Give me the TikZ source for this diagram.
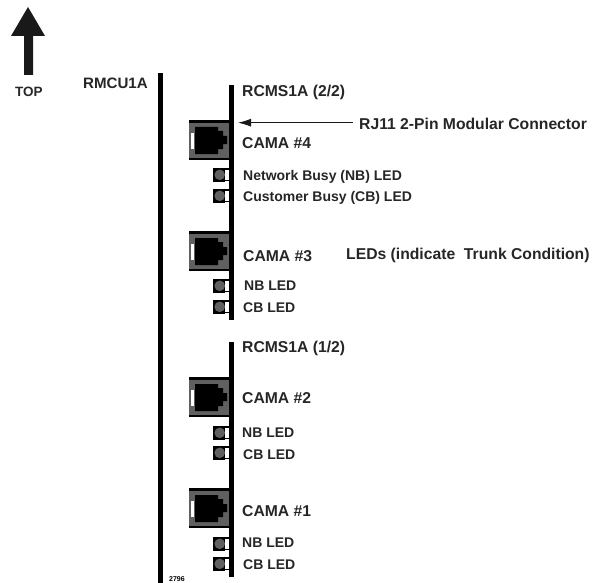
\documentclass[tikz,border=0pt]{standalone}
\usepackage{fontspec}
\setmainfont{Liberation Sans}
\usetikzlibrary{arrows.meta}
\definecolor{jackG}{RGB}{96, 96, 96}

\tikzset{
  bigL/.style={font=\fontsize{15.7}{18}\selectfont\bfseries, anchor=west, inner sep=0pt, text=black!85},
  smallL/.style={font=\fontsize{14}{16}\selectfont\bfseries, anchor=west, inner sep=0pt, text=black!85},
}

\begin{document}
\begin{tikzpicture}[x=1pt, y=-1pt]
        % Coordinates are reference pixels, y pointing down.
        \useasboundingbox (0, 0) rectangle (594, 583);

        % ── Orientation arrow ──────────────────────────────
        \fill[black!90] (24, 75) -- (24, 36) -- (11, 36) -- (28, 7)
              -- (45, 36) -- (33, 36) -- (33, 75) -- cycle;
        \node[bigL, font=\fontsize{13.5}{15}\selectfont\bfseries] (topL) at (15, 92) {TOP};
        \node[bigL, font=\fontsize{15.1}{17}\selectfont\bfseries] (rmcuL) at (83, 83) {RMCU1A};

        % ── Boards ─────────────────────────────────────────
        \fill[black] (158, 73) rectangle (163, 583);
        \fill[black] (229, 85) rectangle (234, 320);
        \fill[black] (229, 342) rectangle (234, 577);

        % ── Modular jacks (top edge, label) ────────────────
        \foreach \y/\n/\xlab/\ylab in {120/4/242/143, 231/3/243/256, 377/2/242/398, 488/1/242/511} {
          \fill[jackG] (189, \y) rectangle (229, \y+39);
          \fill[black] (189, \y) rectangle (229, \y+3);
          \fill[black] (189, \y+38) rectangle (229, \y+40);
          \fill[white] (191, \y+13) rectangle (194, \y+29);
          \fill[black] (195, \y+7) -- (218, \y+7) -- (218, \y+11) -- (223, \y+11)
                -- (223, \y+16) -- (227, \y+16) -- (227, \y+24) -- (223, \y+24)
                -- (223, \y+29) -- (218, \y+29) -- (218, \y+34) -- (195, \y+34) -- cycle;
          \node[bigL] (cama\n) at (\xlab, \ylab) {CAMA \#\n};
        }

        % ── LEDs (top edge) ────────────────────────────────
        \foreach \y in {168, 189, 279, 300, 426, 446, 537, 557} {
          \fill[black] (213, \y) rectangle (225, \y+13.5);
          \fill[jackG] (219.7, \y+6.8) circle (5.3);
          \draw[black, line width=1.2pt] (225, \y+1) -- (230, \y+1);
          \draw[black, line width=1.2pt] (225, \y+12.5) -- (230, \y+12.5);
        }

        % ── Board labels ───────────────────────────────────
        \node[bigL] (rcmsB) at (242, 92) {RCMS1A (2/2)};
        \node[bigL] (rcmsA) at (242, 348) {RCMS1A (1/2)};

        \node[smallL] (nbLong) at (243, 177) {Network Busy (NB) LED};
        \node[smallL] (cbLong) at (243, 198) {Customer Busy (CB) LED};
        \node[smallL] (nb3) at (244, 286) {NB LED};
        \node[smallL] (cb3) at (243, 308) {CB LED};
        \node[smallL] (nb2) at (242, 433) {NB LED};
        \node[smallL] (cb2) at (243, 455) {CB LED};
        \node[smallL] (nb1) at (242, 543) {NB LED};
        \node[smallL] (cb1) at (243, 565) {CB LED};

        % ── Callouts ───────────────────────────────────────
        \node[bigL] (rjL) at (359, 124) {RJ11 2-Pin Modular Connector};
        \coordinate (rjTip) at (238, 122.7);
        \draw[-{Latex[length=13pt, width=8pt]}, black!90, line width=1pt]
              (rjL.west |- rjTip) ++(-6, 0) -- (rjTip);
        \node[bigL] (ledsL) at (346, 255) {LEDs (indicate \ Trunk Condition)};

        \node[font=\fontsize{7}{8}\selectfont\bfseries, anchor=west, inner sep=0pt] (figNo) at (169, 579.5) {2796};
      \end{tikzpicture}
\end{document}
